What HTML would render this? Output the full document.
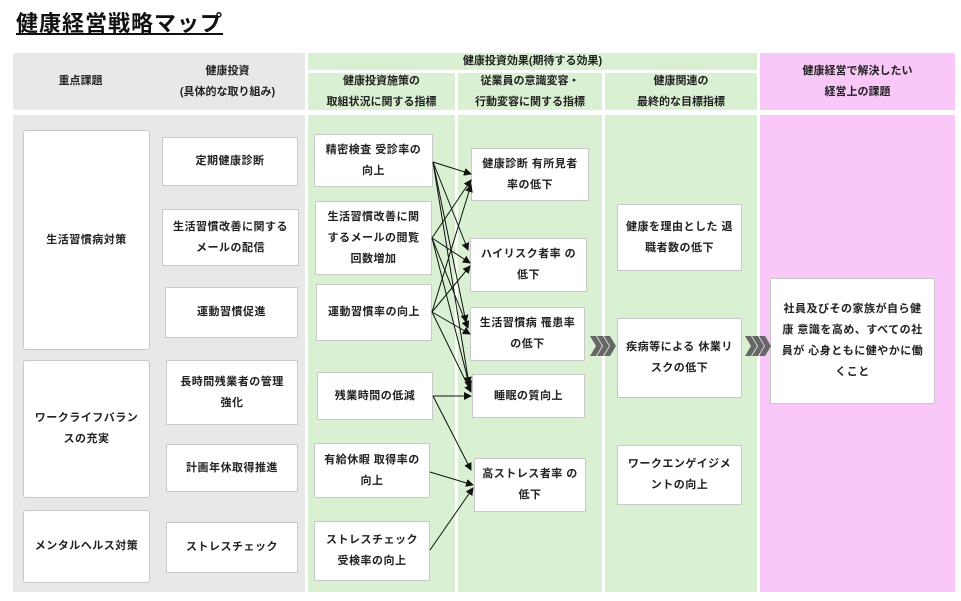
<!DOCTYPE html>
<html><head><meta charset="utf-8"><style>
body{margin:0;width:961px;height:601px;background:#fff;position:relative;overflow:hidden;font-family:"Liberation Sans","Noto Sans CJK JP",sans-serif;}
div{position:absolute;box-sizing:border-box;}
.t{font-size:11px;font-weight:bold;color:#222;display:flex;align-items:center;justify-content:center;text-align:center;line-height:21px;}
.g{background:#e8e8e8}.n{background:#daf0d3}.p{background:#f9c8f9}
.b{background:#fff;border:1px solid #c8c8c8;font-size:11px;font-weight:bold;color:#222;display:flex;align-items:center;justify-content:center;text-align:center;line-height:21px;padding:0 6px;letter-spacing:0.5px}
</style></head><body>
<div style="left:16px;top:6px;font-size:22px;font-weight:bold;text-decoration:underline;color:#111;letter-spacing:1px">健康経営戦略マップ</div>
<!-- header -->
<div class="g t" style="left:13px;top:53px;width:292px;height:57px"></div>
<div class="t" style="left:13px;top:53px;width:135px;height:57px">重点課題</div>
<div class="t" style="left:150px;top:53px;width:155px;height:57px">健康投資<br>(具体的な取り組み)</div>
<div class="n t" style="left:308px;top:53px;width:449px;height:17px;line-height:17px">健康投資効果(期待する効果)</div>
<div class="n t" style="left:308px;top:73px;width:147px;height:37px">健康投資施策の<br>取組状況に関する指標</div>
<div class="n t" style="left:458px;top:73px;width:144px;height:37px">従業員の意識変容・<br>行動変容に関する指標</div>
<div class="n t" style="left:605px;top:73px;width:152px;height:37px">健康関連の<br>最終的な目標指標</div>
<div class="p t" style="left:760px;top:53px;width:195px;height:57px">健康経営で解決したい<br>経営上の課題</div>
<!-- body columns -->
<div class="g" style="left:13px;top:115px;width:292px;height:477px"></div>
<div class="n" style="left:308px;top:115px;width:147px;height:477px"></div>
<div class="n" style="left:458px;top:115px;width:144px;height:477px"></div>
<div class="n" style="left:605px;top:115px;width:152px;height:477px"></div>
<div class="p" style="left:760px;top:115px;width:195px;height:477px"></div>
<!-- col1 -->
<div class="b" style="left:23px;top:130px;width:127px;height:220px;border-radius:3px">生活習慣病対策</div>
<div class="b" style="left:23px;top:360px;width:127px;height:138px;border-radius:3px">ワークライフバラン<br>スの充実</div>
<div class="b" style="left:23px;top:510px;width:127px;height:73px;border-radius:3px">メンタルヘルス対策</div>
<!-- col2 -->
<div class="b" style="left:162px;top:137px;width:136px;height:49px">定期健康診断</div>
<div class="b" style="left:162px;top:209px;width:137px;height:57px">生活習慣改善に関する<br>メールの配信</div>
<div class="b" style="left:165px;top:287px;width:133px;height:51px">運動習慣促進</div>
<div class="b" style="left:166px;top:360px;width:132px;height:65px">長時間残業者の管理<br>強化</div>
<div class="b" style="left:166px;top:444px;width:132px;height:48px">計画年休取得推進</div>
<div class="b" style="left:166px;top:522px;width:132px;height:51px">ストレスチェック</div>
<!-- col3 -->
<div class="b" style="left:314px;top:134px;width:119px;height:53px">精密検査 受診率の<br>向上</div>
<div class="b" style="left:315px;top:201px;width:117px;height:74px">生活習慣改善に関<br>するメールの閲覧<br>回数増加</div>
<div class="b" style="left:316px;top:284px;width:116px;height:57px">運動習慣率の向上</div>
<div class="b" style="left:317px;top:372px;width:116px;height:48px">残業時間の低減</div>
<div class="b" style="left:314px;top:443px;width:116px;height:55px">有給休暇 取得率の<br>向上</div>
<div class="b" style="left:314px;top:521px;width:116px;height:60px">ストレスチェック<br>受検率の向上</div>
<!-- col4 -->
<div class="b" style="left:471px;top:148px;width:118px;height:53px">健康診断 有所見者<br>率の低下</div>
<div class="b" style="left:470px;top:238px;width:117px;height:54px">ハイリスク者率 の<br>低下</div>
<div class="b" style="left:470px;top:307px;width:115px;height:54px">生活習慣病 罹患率<br>の低下</div>
<div class="b" style="left:472px;top:374px;width:113px;height:44px">睡眠の質向上</div>
<div class="b" style="left:474px;top:458px;width:112px;height:54px">高ストレス者率 の<br>低下</div>
<!-- col5 -->
<div class="b" style="left:617px;top:204px;width:125px;height:67px">健康を理由とした 退<br>職者数の低下</div>
<div class="b" style="left:617px;top:318px;width:125px;height:80px">疾病等による 休業リ<br>スクの低下</div>
<div class="b" style="left:617px;top:445px;width:125px;height:60px">ワークエンゲイジメ<br>ントの向上</div>
<!-- col6 -->
<div class="b" style="left:770px;top:278px;width:165px;height:126px">社員及びその家族が自ら健<br>康 意識を高め、すべての社<br>員が 心身ともに健やかに働<br>くこと</div>
<svg style="position:absolute;left:0;top:0" width="961" height="601">
<defs><marker id="a" markerWidth="8" markerHeight="8" refX="7" refY="4" orient="auto" markerUnits="userSpaceOnUse"><path d="M0,0 L8,4 L0,8 Z" fill="#111"/></marker>
<g id="ch" fill="#666"><path d="M0,0 h6 l6,10 l-6,10 h-6 l6,-10z"/><path d="M7,0 h6 l6,10 l-6,10 h-6 l6,-10z"/><path d="M14,0 h6 l6,10 l-6,10 h-6 l6,-10z"/></g></defs>
<g stroke="#111" stroke-width="1" fill="none" marker-end="url(#a)">
<line x1="433" y1="162" x2="471" y2="174"/>
<line x1="433" y1="162" x2="468" y2="250"/>
<line x1="433" y1="162" x2="466" y2="322"/>
<line x1="433" y1="162" x2="469" y2="384"/>
<line x1="432" y1="238" x2="471" y2="180"/>
<line x1="432" y1="238" x2="470" y2="263"/>
<line x1="432" y1="238" x2="468" y2="328"/>
<line x1="432" y1="238" x2="470" y2="388"/>
<line x1="432" y1="312" x2="471" y2="185"/>
<line x1="432" y1="312" x2="470" y2="266"/>
<line x1="432" y1="312" x2="470" y2="334"/>
<line x1="432" y1="312" x2="471" y2="392"/>
<line x1="433" y1="396" x2="471" y2="396"/>
<line x1="433" y1="396" x2="471" y2="470"/>
<line x1="430" y1="472" x2="473" y2="485"/>
<line x1="430" y1="550" x2="473" y2="488"/>
</g>
<use href="#ch" x="590" y="336"/>
<use href="#ch" x="745" y="336"/>
</svg>
</body></html>
